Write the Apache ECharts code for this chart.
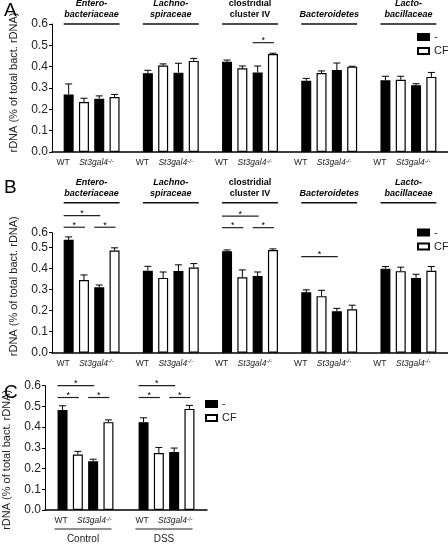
<!DOCTYPE html>
<html><head><meta charset="utf-8">
<script src="https://cdn.jsdelivr.net/npm/echarts@6/dist/echarts.min.js"></script>
<style>html,body{margin:0;padding:0;background:#fff}#c{width:448px;height:544px}</style>
</head><body><div id="c"></div><script>
// ---------- data ----------
const families = ['Entero-\nbacteriaceae', 'Lachno-\nspiraceae', 'clostridial\ncluster IV', 'Bacteroidetes', 'Lacto-\nbacillaceae'];
const familyItalic = [true, true, false, true, true];
const treatments = ['Control', 'DSS'];
const genotypes = ['WT', 'St3gal4'];
const koSuperscript = '-/-';
const legendNames = ['-', 'CF'];
const yTickStep = 0.1;
const yMax = 0.6;
const bAxisTop = 0.571; // panel B axis top (labelled 0.6 in the original)
const yAxisTitle = 'rDNA (% of total bact. rDNA)';

// Panel A
const aWT      = [0.270, 0.369, 0.423, 0.334, 0.336];
const aWTErr   = [0.049, 0.014, 0.008, 0.011, 0.019];
const aWTcf    = [0.234, 0.405, 0.392, 0.370, 0.339];
const aWTcfErr = [0.018, 0.008, 0.011, 0.010, 0.016];
const aKO      = [0.250, 0.372, 0.373, 0.384, 0.313];
const aKOErr   = [0.013, 0.044, 0.030, 0.033, 0.007];
const aKOcf    = [0.258, 0.427, 0.459, 0.400, 0.352];
const aKOcfErr = [0.012, 0.012, 0.004, 0.002, 0.021];
const aSig = [[2, 2, 3, 0.5125]]; // [group, fromBar, toBar, level]

// Panel B
const bWT      = [0.537, 0.390, 0.483, 0.288, 0.400];
const bWTErr   = [0.014, 0.021, 0.006, 0.011, 0.010];
const bWTcf    = [0.346, 0.356, 0.359, 0.269, 0.388];
const bWTcfErr = [0.024, 0.028, 0.035, 0.028, 0.019];
const bKO      = [0.311, 0.389, 0.365, 0.197, 0.356];
const bKOErr   = [0.011, 0.029, 0.019, 0.014, 0.017];
const bKOcf    = [0.486, 0.405, 0.489, 0.207, 0.390];
const bKOcfErr = [0.013, 0.019, 0.005, 0.019, 0.020];
const bSig = [[0, 0, 2, 0.652], [0, 0, 1, 0.597], [0, 2, 3, 0.597],
              [2, 0, 2, 0.650], [2, 0, 1, 0.595], [2, 2, 3, 0.595],
              [3, 0, 2, 0.457]];

// Panel C
const cWT      = [0.483, 0.424];
const cWTErr   = [0.020, 0.021];
const cWTcf    = [0.268, 0.275];
const cWTcfErr = [0.015, 0.027];
const cKO      = [0.235, 0.280];
const cKOErr   = [0.010, 0.019];
const cKOcf    = [0.424, 0.488];
const cKOcfErr = [0.011, 0.017];
const cSig = [[0, 0, 2, 0.600], [0, 0, 1, 0.543], [0, 2, 3, 0.543],
              [1, 0, 2, 0.600], [1, 0, 1, 0.543], [1, 2, 3, 0.543]];

// ---------- styles / helpers ----------
const FONT = '"Liberation Sans", Arial, Helvetica, sans-serif';
const BAR_W = 10, BAR_GAP = 0.53, STEP = BAR_W * (1 + BAR_GAP);
const barStyles = [
  {color: '#000', borderColor: '#000', borderWidth: 1.2},
  {color: '#fff', borderColor: '#000', borderWidth: 1.2},
  {color: '#000', borderColor: '#000', borderWidth: 1.2},
  {color: '#fff', borderColor: '#000', borderWidth: 1.2}
];
const seriesNames = [legendNames[0], legendNames[1], legendNames[0], legendNames[1]];

function errRender(params, api) {
  const cat = api.value(0), k = api.value(1), v = api.value(2), e = api.value(3);
  const base = api.coord([cat, v]);
  const top = api.coord([cat, v + e]);
  const x = base[0] + (k - 1.5) * STEP;
  return {type: 'group', children: [
    {type: 'line', shape: {x1: x, y1: base[1], x2: x, y2: top[1]}, style: {stroke: '#000', lineWidth: 1}},
    {type: 'line', shape: {x1: x - 3.5, y1: top[1], x2: x + 3.5, y2: top[1]}, style: {stroke: '#000', lineWidth: 1}}
  ]};
}
function sigRender(params, api) {
  const cat = api.value(0), from = api.value(1), to = api.value(2), lvl = api.value(3);
  const p = api.coord([cat, lvl]);
  const x1 = p[0] + (from - 1.5) * STEP - BAR_W / 2;
  const x2 = p[0] + (to - 1.5) * STEP + 1;
  return {type: 'group', children: [
    {type: 'line', shape: {x1: x1, y1: p[1], x2: x2, y2: p[1]}, style: {stroke: '#222', lineWidth: 1.2}},
    {type: 'text', style: {text: '*', x: (x1 + x2) / 2, y: p[1] - 2, align: 'center', verticalAlign: 'middle',
      font: '9px ' + FONT, fill: '#000'}}
  ]};
}
function headerRender(offset) {
  return function (params, api) {
    const i = params.dataIndex;
    const c = api.coord([api.value(0), 0]);
    const y = params.coordSys.y - offset;
    const half = 1.5 * STEP + BAR_W / 2;
    return {type: 'group', children: [
      {type: 'line', shape: {x1: c[0] - half, y1: y, x2: c[0] + half, y2: y}, style: {stroke: '#111', lineWidth: 1.5}},
      {type: 'text', style: {text: families[i], x: c[0], y: y - 4, align: 'center', verticalAlign: 'bottom',
        font: (familyItalic[i] ? 'italic ' : '') + 'bold 9px ' + FONT, lineHeight: 11, fill: '#000'}}
    ]};
  };
}
function makePanel(p, vals, errs, sigs, headerOffset) {
  const out = [];
  vals.forEach((v, k) => out.push({
    type: 'bar', name: seriesNames[k], xAxisIndex: p, yAxisIndex: p, data: v,
    barWidth: BAR_W, barGap: (BAR_GAP * 100) + '%', itemStyle: barStyles[k], silent: true
  }));
  const ed = [];
  vals.forEach((v, k) => v.forEach((val, i) => ed.push([i, k, val, errs[k][i]])));
  out.push({type: 'custom', name: 'err' + p, xAxisIndex: p, yAxisIndex: p, data: ed, renderItem: errRender, clip: false, silent: true, z: 3});
  out.push({type: 'custom', name: 'sig' + p, xAxisIndex: p, yAxisIndex: p, data: sigs, renderItem: sigRender, clip: false, silent: true});
  if (headerOffset !== null) {
    out.push({type: 'custom', name: 'hdr' + p, xAxisIndex: p, yAxisIndex: p,
      data: families.map((f, i) => [i, 0]), renderItem: headerRender(headerOffset), clip: false, silent: true});
  }
  return out;
}
function yAxis(p, max, namePad) {
  return {
    type: 'value', gridIndex: p, min: 0, max: max, interval: yTickStep,
    axisLine: {show: true, lineStyle: {color: '#000', width: 1}},
    axisTick: {show: true, length: 3, lineStyle: {color: '#000', width: 1}},
    splitLine: {show: false},
    axisLabel: {fontSize: 12, fontFamily: FONT, color: '#222', margin: 4, showMaxLabel: true,
      formatter: v => v.toFixed(1)},
    name: yAxisTitle, nameLocation: 'middle', nameRotate: 90, nameGap: 33,
    nameTextStyle: {fontSize: 11, fontFamily: FONT, color: '#222', padding: namePad}
  };
}
const xRich = {
  n: {fontSize: 8.5, fontFamily: FONT, color: '#222', lineHeight: 10},
  i: {fontSize: 8.5, fontFamily: FONT, fontStyle: 'italic', color: '#222', lineHeight: 10},
  s: {fontSize: 6, fontFamily: FONT, fontStyle: 'italic', color: '#222', verticalAlign: 'top', lineHeight: 10},
  ln: {width: 57, height: 1.2, backgroundColor: '#222', lineHeight: 6, fontSize: 1},
  c: {fontSize: 10, fontFamily: FONT, color: '#222', lineHeight: 14}
};
const genoLabel = `{n|${genotypes[0]}}    {i|${genotypes[1]}}{s|${koSuperscript}}`;
function xAxis(p, cats, cLabels) {
  return {
    type: 'category', gridIndex: p, data: cats,
    axisLine: {show: true, lineStyle: {color: '#000', width: 1.5}},
    axisTick: {show: false},
    axisLabel: {interval: 0, margin: 6, fontSize: 8.5, rich: xRich, padding: cLabels ? [0, 5, 0, 0] : [0, 13, 0, 0],
      formatter: cLabels ? (v => `${genoLabel}\n{ln| }\n{c|${v}}`) : (() => genoLabel)}
  };
}
function legend(left, top) {
  return {data: legendNames, left: left, top: top, padding: 0, orient: 'vertical', itemWidth: 11, itemHeight: 6,
    itemGap: 3, itemTextGap: 3, selectedMode: false, icon: 'rect',
    textStyle: {fontSize: 11, fontFamily: FONT, color: '#222'}};
}

const chart = echarts.init(document.getElementById('c'), null, {renderer: 'canvas'});
chart.setOption({
  animation: false,
  backgroundColor: '#fff',
  title: [
    {text: 'A', left: -1, top: -4, textStyle: {fontSize: 19, fontWeight: 'normal', fontFamily: FONT, color: '#000'}},
    {text: 'B', left: -1, top: 173, textStyle: {fontSize: 19, fontWeight: 'normal', fontFamily: FONT, color: '#000'}},
    {text: 'C', left: -1, top: 378, textStyle: {fontSize: 19, fontWeight: 'normal', fontFamily: FONT, color: '#000'}}
  ],
  legend: [legend(417, 31.5), legend(417, 227), legend(205, 398.5)],
  grid: [
    {left: 40, top: 24, width: 408, height: 128},
    {left: 40, top: 232.7, width: 408, height: 120},
    {left: 40, top: 385.7, width: 167, height: 126}
  ],
  xAxis: [xAxis(0, families, false), xAxis(1, families, false), xAxis(2, treatments, true)],
  yAxis: [yAxis(0, yMax, [0, 0, 0, 11]), yAxis(1, bAxisTop, [0, 0, 0, 13]), yAxis(2, yMax, [0, 24, 0, 0])],
  series: [].concat(
    makePanel(0, [aWT, aWTcf, aKO, aKOcf], [aWTErr, aWTcfErr, aKOErr, aKOcfErr], aSig, 0),
    makePanel(1, [bWT, bWTcf, bKO, bKOcf], [bWTErr, bWTcfErr, bKOErr, bKOcfErr], bSig, 30),
    makePanel(2, [cWT, cWTcf, cKO, cKOcf], [cWTErr, cWTcfErr, cKOErr, cKOcfErr], cSig, null)
  )
});
</script></body></html>
